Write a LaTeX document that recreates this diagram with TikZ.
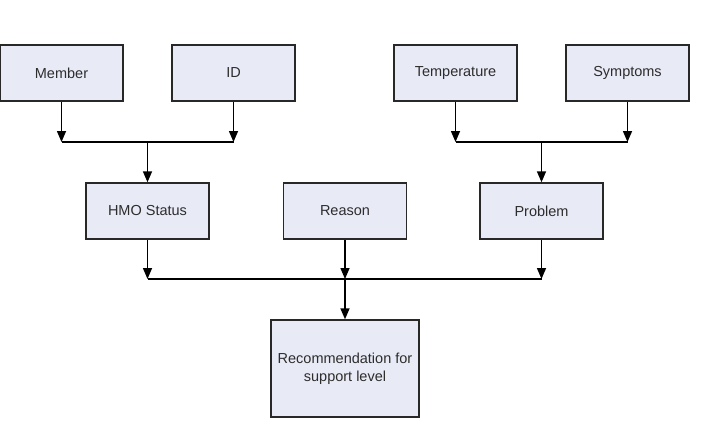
\documentclass[tikz,border=0pt]{standalone}
\usepackage{fontspec}
\setmainfont{Liberation Sans}
\usetikzlibrary{arrows.meta}
\definecolor{boxfill}{RGB}{232,234,246}
\definecolor{boxline}{RGB}{40,40,40}
\definecolor{txt}{RGB}{45,45,45}
\begin{document}
\begin{tikzpicture}[x=1pt,y=-1pt,
  box/.style={draw=boxline,fill=boxfill,line width=1.4pt,minimum width=123pt,minimum height=56pt,inner sep=0pt,font=\fontsize{14.5}{17.5}\selectfont,text=txt,align=center},
  conn/.style={draw=black,line width=1.5pt},
  arr/.style={conn,-{Triangle[length=11pt,width=9pt]}}]
\useasboundingbox (0,0) rectangle (704,424);
\node[box] (member) at (61.5,73) {Member};
\node[box] (id) at (233.5,73) {ID};
\node[box] (temp) at (455.5,73) {Temperature};
\node[box] (symp) at (627.5,73) {Symptoms};
\node[box] (hmo) at (147.5,211) {HMO Status};
\node[box] (reason) at (345,211) {Reason};
\node[box] (problem) at (541.5,211) {Problem};
\node[box,minimum width=148pt,minimum height=97pt] (rec) at (345,368.5) {Recommendation for\\support level};
\coordinate (b1l) at (member.south |- 0,142);
\coordinate (b1r) at (id.south |- 0,142);
\coordinate (b1m) at (hmo.north |- 0,142);
\coordinate (b2l) at (temp.south |- 0,142);
\coordinate (b2r) at (symp.south |- 0,142);
\coordinate (b2m) at (problem.north |- 0,142);
\coordinate (b3l) at (hmo.south |- 0,279);
\coordinate (b3m) at (reason.south |- 0,279);
\coordinate (b3r) at (problem.south |- 0,279);
\draw[arr] (member.south) -- (b1l);
\draw[arr] (id.south) -- (b1r);
\draw[conn] (b1l) -- (b1r);
\draw[arr] (b1m) -- (hmo.north);
\draw[arr] (temp.south) -- (b2l);
\draw[arr] (symp.south) -- (b2r);
\draw[conn] (b2l) -- (b2r);
\draw[arr] (b2m) -- (problem.north);
\draw[arr] (hmo.south) -- (b3l);
\draw[arr] (reason.south) -- (b3m);
\draw[arr] (problem.south) -- (b3r);
\draw[conn] (b3l) -- (b3r);
\draw[arr] (b3m) -- (rec.north);
\end{tikzpicture}
\end{document}
